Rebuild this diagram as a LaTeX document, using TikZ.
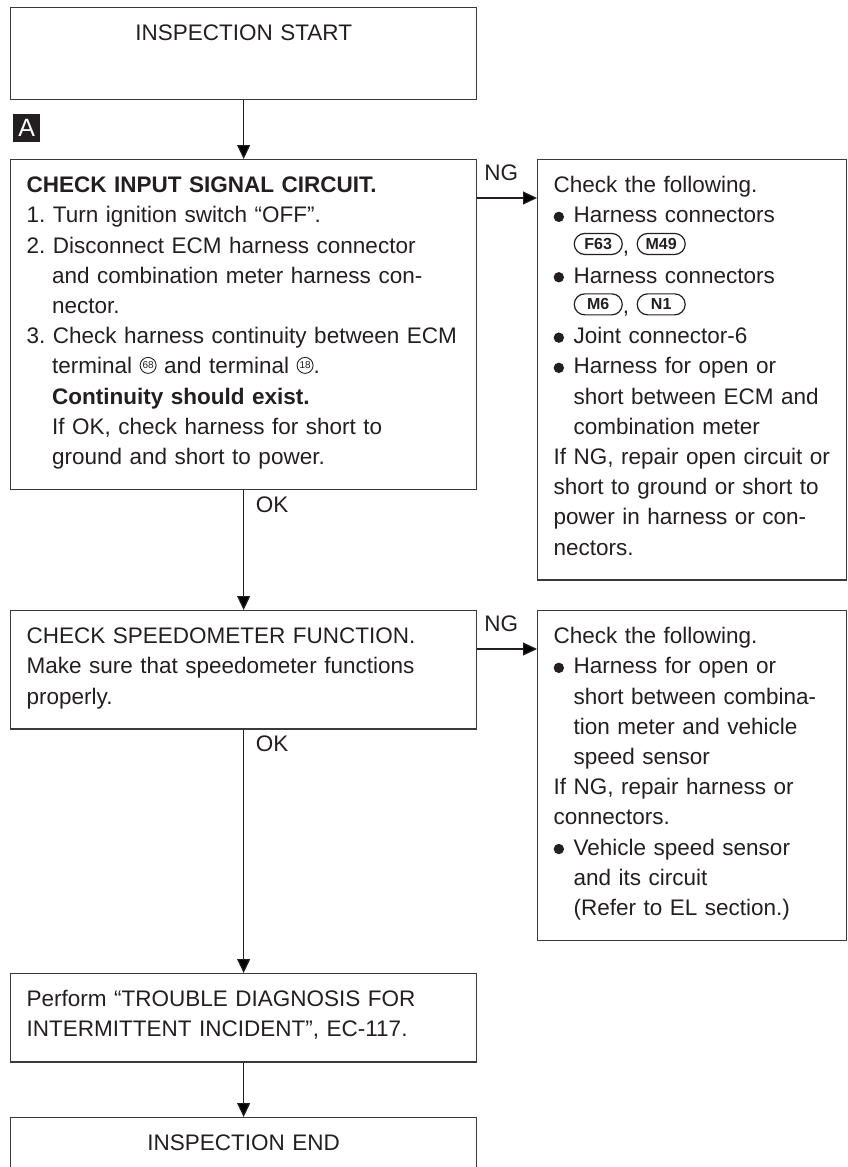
\documentclass[tikz,border=0pt]{standalone}
\usepackage{fontspec}
\setmainfont{Liberation Sans}
\usepackage{tikz}
\usetikzlibrary{
    arrows.meta,
    positioning,
    shapes.misc
}
\definecolor{ink}{RGB}{35,31,32}
\definecolor{frame}{RGB}{58,58,60}
\tikzset{
    line cap=round,
    line join=round,
    bodytext/.style={
        font=\fontsize{22.5}{30.2}\selectfont\frenchspacing,
        text=ink
    },
    stepbox/.style={
        rectangle,
        draw=frame,
        line width=1.3pt,
        anchor=north west,
        text width=434pt,
        inner xsep=16pt,
        inner ysep=0pt,
        align=left,
        bodytext
    },
    endbox/.style={
        stepbox,
        align=center,
        text height=33pt,
        text depth=59pt
    },
    notebox/.style={
        stepbox,
        text width=277pt
    },
    flow/.style={
        -{Triangle[length=14pt, width=13pt]},
        draw=ink,
        line width=1.2pt
    },
    flowlabel/.style={
        bodytext,
        inner sep=0pt,
        text depth=0pt
    },
    tag/.style={
        rectangle,
        fill=ink,
        text=white,
        anchor=north west,
        minimum width=27pt,
        minimum height=28pt,
        inner sep=0pt,
        font=\fontsize{25}{25}\selectfont
    },
    termring/.style={
        circle,
        draw=ink,
        line width=0.9pt,
        inner sep=0pt,
        minimum size=16pt,
        text=ink,
        font=\fontsize{10}{10}\selectfont
    },
    connbadge/.style={
        rounded rectangle,
        draw=ink,
        line width=1.2pt,
        inner sep=0pt,
        minimum width=48pt,
        minimum height=21pt,
        text=ink,
        font=\fontsize{16}{16}\selectfont\bfseries
    }
}
% line struts: first baseline 33pt below the frame, last 25pt above it
\newcommand{\topstrut}{\rule{0pt}{33pt}}
\newcommand{\botstrut}{\rule[-25pt]{0pt}{25pt}}
\newcommand{\itemind}{\hspace*{25.5pt}}
\newcommand{\bulind}{\hspace*{20pt}}
\newcommand{\bul}{\makebox[20pt][l]{\tikz[baseline=0pt]\fill[ink] (5pt,6pt) circle (5.2pt);}}
\newcommand{\termno}[1]{\tikz[baseline=0pt]\node[termring, anchor=south] at (0pt,0pt) {#1};}
\newcommand{\hconn}[1]{\tikz[baseline=0pt]\node[connbadge, anchor=south] at (0pt,-2pt) {#1};}

\begin{document}
\begin{tikzpicture}[x=1pt, y=-1pt]
\useasboundingbox (0,0) rectangle (848,1167);

% Main column
\node[endbox] (start) at (10,7) {INSPECTION START};
\node[tag] (tagA) at (13,114) {A};

\node[stepbox] (chk1) at (10,159) {\topstrut\textbf{CHECK INPUT SIGNAL CIRCUIT.}\\
1. Turn ignition switch “OFF”.\\
2. Disconnect ECM harness connector\\
\itemind and combination meter harness con-\\
\itemind nector.\\
3. Check harness continuity between ECM\\
\itemind terminal \termno{68} and terminal \termno{18}.\\
\itemind\textbf{Continuity should exist.}\\
\itemind If OK, check harness for short to\\
\itemind ground and short to power.\botstrut};

\node[stepbox] (chk2) at (10,610) {\topstrut CHECK SPEEDOMETER FUNCTION.\\
Make sure that speedometer functions\\
properly.\botstrut};

\node[stepbox] (perf) at (10,973) {\topstrut Perform “TROUBLE DIAGNOSIS FOR\\
INTERMITTENT INCIDENT”, EC-117.\botstrut};

\node[endbox] (stop) at (10,1117) {INSPECTION END};

% NG branch boxes
\node[notebox] (ng1) at (537,159) {\topstrut Check the following.\\
\bul Harness connectors\\
\bulind\hconn{F63}, \hconn{M49}\\
\bul Harness connectors\\
\bulind\hconn{M6}, \hconn{N1}\\
\bul Joint connector-6\\
\bul Harness for open or\\
\bulind short between ECM and\\
\bulind combination meter\\
If NG, repair open circuit or\\
short to ground or short to\\
power in harness or con-\\
nectors.\botstrut};

\node[notebox] (ng2) at (537,610) {\topstrut Check the following.\\
\bul Harness for open or\\
\bulind short between combina-\\
\bulind tion meter and vehicle\\
\bulind speed sensor\\
If NG, repair harness or\\
connectors.\\
\bul Vehicle speed sensor\\
\bulind and its circuit\\
\bulind (Refer to EL section.)\botstrut};

% Connectors
\draw[flow] (start) -- (chk1);
\draw[flow] (chk1) -- (chk2);
\draw[flow] (chk2) -- (chk2.south |- perf.north);
\draw[flow] (perf.south -| chk2.south) -- (chk2.south |- stop.north);

\draw[flow] ([yshift=-39pt]chk1.north east) -- node[pos=0.4, above=17pt, flowlabel] (ngl1) {NG} ([yshift=-39pt]chk1.north east -| ng1.west);
\draw[flow] ([yshift=-39pt]chk2.north east) -- node[pos=0.4, above=17pt, flowlabel] (ngl2) {NG} ([yshift=-39pt]chk2.north east -| ng2.west);

\node[flowlabel, anchor=base west] (ok1) at ([shift={(12pt,-22pt)}]chk1.south) {OK};
\node[flowlabel, anchor=base west] (ok2) at ([shift={(12pt,-22pt)}]chk2.south) {OK};

\end{tikzpicture}
\end{document}
